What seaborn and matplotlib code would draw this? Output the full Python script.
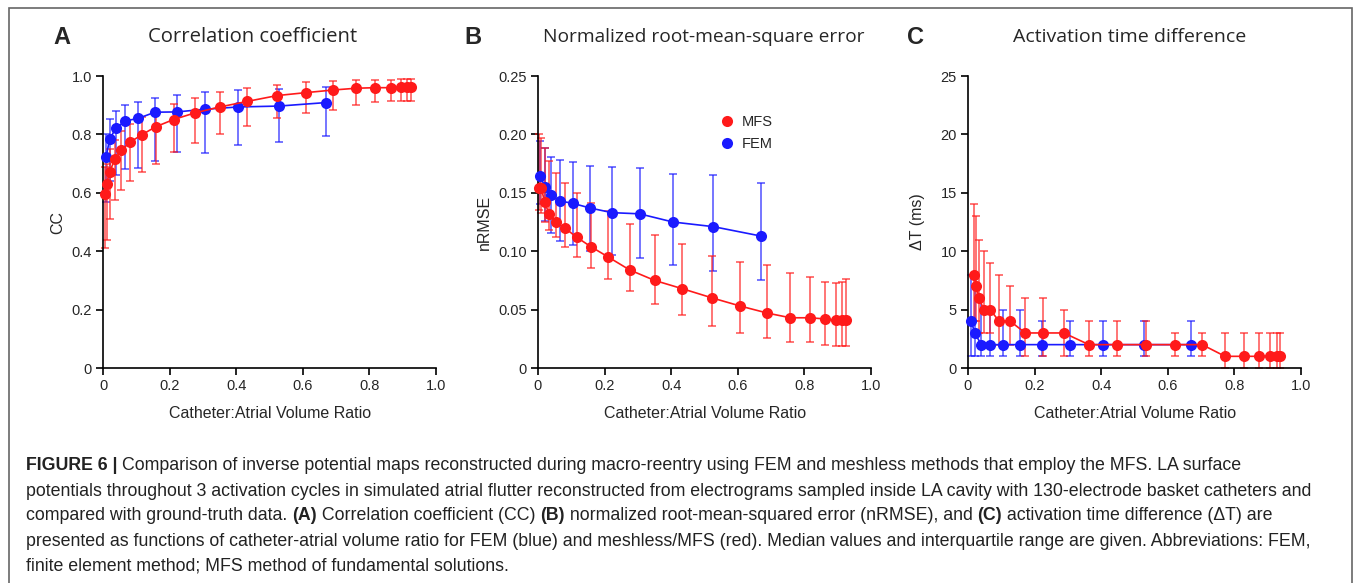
import numpy as np
import pandas as pd
import matplotlib
matplotlib.use('Agg')
import matplotlib.pyplot as plt
import seaborn as sns
from matplotlib.lines import Line2D
from matplotlib.patches import Rectangle

# Panel A - correlation coefficient
a_mfs_x = [0.005, 0.011, 0.020, 0.036, 0.055, 0.082, 0.117, 0.158, 0.212, 0.277, 0.351,
           0.433, 0.523, 0.609, 0.691, 0.759, 0.817, 0.864, 0.896, 0.913, 0.925]
a_mfs_y = [0.596, 0.630, 0.672, 0.716, 0.746, 0.774, 0.799, 0.826, 0.851, 0.874, 0.894,
           0.913, 0.933, 0.943, 0.952, 0.958, 0.960, 0.960, 0.962, 0.962, 0.962]
a_mfs_lo = [0.41, 0.44, 0.51, 0.575, 0.61, 0.64, 0.67, 0.70, 0.74, 0.77, 0.80,
            0.83, 0.855, 0.875, 0.885, 0.90, 0.91, 0.915, 0.915, 0.915, 0.915]
a_mfs_hi = [0.69, 0.70, 0.75, 0.78, 0.81, 0.835, 0.86, 0.877, 0.905, 0.925, 0.945,
            0.958, 0.97, 0.978, 0.982, 0.985, 0.985, 0.985, 0.99, 0.99, 0.99]
a_fem_x = [0.009, 0.020, 0.039, 0.067, 0.106, 0.156, 0.222, 0.305, 0.406, 0.528, 0.670]
a_fem_y = [0.721, 0.784, 0.822, 0.846, 0.855, 0.876, 0.877, 0.886, 0.894, 0.897, 0.909]
a_fem_lo = [0.57, 0.64, 0.66, 0.68, 0.685, 0.71, 0.74, 0.735, 0.765, 0.775, 0.795]
a_fem_hi = [0.80, 0.852, 0.88, 0.90, 0.91, 0.925, 0.935, 0.945, 0.953, 0.955, 0.963]

# Panel B - nRMSE
b_mfs_x = [0.003, 0.010, 0.020, 0.033, 0.053, 0.080, 0.116, 0.158, 0.211, 0.275, 0.350,
           0.432, 0.523, 0.608, 0.689, 0.758, 0.816, 0.863, 0.895, 0.912, 0.924]
b_mfs_y = [0.154, 0.154, 0.142, 0.132, 0.125, 0.120, 0.112, 0.104, 0.095, 0.084, 0.075,
           0.068, 0.060, 0.053, 0.047, 0.043, 0.043, 0.042, 0.041, 0.041, 0.041]
b_mfs_lo = [0.135, 0.133, 0.125, 0.118, 0.112, 0.104, 0.095, 0.086, 0.076, 0.066, 0.055,
            0.045, 0.036, 0.030, 0.026, 0.022, 0.022, 0.020, 0.019, 0.019, 0.019]
b_mfs_hi = [0.200, 0.197, 0.188, 0.177, 0.167, 0.158, 0.150, 0.141, 0.134, 0.123, 0.114,
            0.106, 0.096, 0.091, 0.088, 0.081, 0.078, 0.074, 0.073, 0.074, 0.076]
b_fem_x = [0.007, 0.021, 0.038, 0.066, 0.104, 0.156, 0.222, 0.305, 0.405, 0.527, 0.669]
b_fem_y = [0.164, 0.155, 0.148, 0.143, 0.141, 0.137, 0.133, 0.132, 0.125, 0.121, 0.113]
b_fem_lo = [0.140, 0.126, 0.116, 0.109, 0.105, 0.100, 0.097, 0.094, 0.088, 0.083, 0.075]
b_fem_hi = [0.194, 0.188, 0.181, 0.178, 0.176, 0.173, 0.172, 0.171, 0.166, 0.165, 0.158]

# Panel C - activation time difference (ms)
c_mfs_x = [0.017, 0.025, 0.033, 0.047, 0.067, 0.093, 0.127, 0.172, 0.225, 0.288, 0.363,
           0.447, 0.536, 0.622, 0.703, 0.772, 0.830, 0.875, 0.908, 0.927, 0.938]
c_mfs_y = [8, 7, 6, 5, 5, 4, 4, 3, 3, 3, 2, 2, 2, 2, 2, 1, 1, 1, 1, 1, 1]
c_mfs_lo = [4, 4, 3, 3, 3, 2, 2, 1, 1, 1, 1, 1, 1, 1, 1, 0, 0, 0, 0, 0, 0]
c_mfs_hi = [14, 13, 11, 10, 9, 8, 7, 6, 6, 5, 4, 4, 4, 3, 3, 3, 3, 3, 3, 3, 3]
c_fem_x = [0.010, 0.020, 0.040, 0.067, 0.105, 0.157, 0.222, 0.306, 0.406, 0.528, 0.670]
c_fem_y = [4, 3, 2, 2, 2, 2, 2, 2, 2, 2, 2]
c_fem_lo = [1, 1, 1, 1, 1, 1, 1, 1, 1, 1, 1]
c_fem_hi = [8, 7, 6, 5, 5, 5, 4, 4, 4, 4, 4]

panels = [
    dict(letter='A', title='Correlation coefficient', ylabel='CC',
         yticks=[0, 0.2, 0.4, 0.6, 0.8, 1.0], ylabels=['0', '0.2', '0.4', '0.6', '0.8', '1.0'],
         mfs=(a_mfs_x, a_mfs_y, a_mfs_lo, a_mfs_hi), fem=(a_fem_x, a_fem_y, a_fem_lo, a_fem_hi)),
    dict(letter='B', title='Normalized root-mean-square error', ylabel='nRMSE',
         yticks=[0, 0.05, 0.10, 0.15, 0.20, 0.25], ylabels=['0', '0.05', '0.10', '0.15', '0.20', '0.25'],
         mfs=(b_mfs_x, b_mfs_y, b_mfs_lo, b_mfs_hi), fem=(b_fem_x, b_fem_y, b_fem_lo, b_fem_hi)),
    dict(letter='C', title='Activation time difference', ylabel='\u0394T (ms)',
         yticks=[0, 5, 10, 15, 20, 25], ylabels=['0', '5', '10', '15', '20', '25'],
         mfs=(c_mfs_x, c_mfs_y, c_mfs_lo, c_mfs_hi), fem=(c_fem_x, c_fem_y, c_fem_lo, c_fem_hi)),
]

RED = '#ff1a1a'
BLUE = '#1a1aff'

sns.set_style('ticks')
plt.rcParams['font.family'] = ['Liberation Sans', 'DejaVu Sans']

fig = plt.figure(figsize=(13.55, 5.83), dpi=100)
W, H = 1355, 583

def px(x, y):
    return x / W, 1 - y / H

lefts = [103, 538, 968]
letter_x = [62, 473, 916]
title_x = [148, 543, 1013]
title_size = [14.6, 13.8, 14.0]
ylab_x = [58, 484, 917]

for i, p in enumerate(panels):
    l = lefts[i]
    ax = fig.add_axes([l / W, 1 - 368 / H, 333 / W, 292 / H])
    for key, col in [('fem', BLUE), ('mfs', RED)]:
        x, y, lo, hi = p[key]
        df = pd.DataFrame({'ratio': x, 'value': y})
        yerr = [np.array(y) - np.array(lo), np.array(hi) - np.array(y)]
        ax.errorbar(x, y, yerr=yerr, fmt='none', ecolor=col, alpha=0.7,
                    elinewidth=1.2, capsize=3, capthick=1.2, zorder=2)
        sns.lineplot(data=df, x='ratio', y='value', ax=ax, color=col, sort=False,
                     marker='o', markersize=8, markeredgewidth=0, linewidth=1.2,
                     zorder=3, legend=False)
    ax.set_xlim(0, 1.0)
    ax.set_ylim(p['yticks'][0], p['yticks'][-1])
    ax.set_xticks([0, 0.2, 0.4, 0.6, 0.8, 1.0], ['0', '0.2', '0.4', '0.6', '0.8', '1.0'])
    ax.set_yticks(p['yticks'], p['ylabels'])
    ax.tick_params(labelsize=10.5, length=5, width=1.2, color='black', pad=3)
    for s in ['left', 'bottom']:
        ax.spines[s].set_linewidth(1.2)
        ax.spines[s].set_color('black')
    sns.despine(ax=ax)
    ax.set_xlabel('')
    ax.set_ylabel('')
    ax.patch.set_alpha(0)
    for c in ax.collections:
        c.set_clip_on(False)
    for ln in ax.lines:
        ln.set_clip_on(False)

    fig.text(*px(l + 167, 413), 'Catheter:Atrial Volume Ratio', ha='center', va='center', fontsize=11.5)
    fig.text(*px(ylab_x[i], 222), p['ylabel'], ha='center', va='center', rotation=90, fontsize=11.5)
    fig.text(*px(letter_x[i], 37), p['letter'], ha='center', va='center', fontsize=17, fontweight='bold')
    fig.text(*px(title_x[i], 37), p['title'], ha='left', va='center', fontsize=title_size[i],
             family=['Open Sans', 'DejaVu Sans'])

    if p['letter'] == 'B':
        handles = [Line2D([], [], color=RED, marker='o', ls='none', markersize=8, markeredgewidth=0),
                   Line2D([], [], color=BLUE, marker='o', ls='none', markersize=8, markeredgewidth=0)]
        ax.legend(handles, ['MFS', 'FEM'], loc='upper left', bbox_to_anchor=(0.51, 0.91),
                  frameon=False, fontsize=10.5, handlelength=0.8, handletextpad=0.6, labelspacing=0.55)

# frame around the figure
fig.patches.append(Rectangle(px(9, 600), (1352 - 9) / W, (600 - 8) / H, transform=fig.transFigure,
                             fill=False, edgecolor='#666666', linewidth=1.2))

# caption with bold pieces
caption = [
    [('FIGURE 6 | ', True), ('Comparison of inverse potential maps reconstructed during macro-reentry using FEM and meshless methods that employ the MFS. LA surface', False)],
    [('potentials throughout 3 activation cycles in simulated atrial flutter reconstructed from electrograms sampled inside LA cavity with 130-electrode basket catheters and', False)],
    [('compared with ground-truth data. ', False), ('(A)', True), (' Correlation coefficient (CC) ', False), ('(B)', True),
     (' normalized root-mean-squared error (nRMSE), and ', False), ('(C)', True), (' activation time difference (\u0394T) are', False)],
    [('presented as functions of catheter-atrial volume ratio for FEM (blue) and meshless/MFS (red). Median values and interquartile range are given. Abbreviations: FEM,', False)],
    [('finite element method; MFS method of fundamental solutions.', False)],
]
line_y = [465, 491, 516, 541, 566]

fig.canvas.draw()
renderer = fig.canvas.get_renderer()
for row, yy in zip(caption, line_y):
    x = 26
    for txt, bold in row:
        t = fig.text(*px(x, yy), txt, ha='left', va='center', fontsize=12.8,
                     fontweight='bold' if bold else 'normal', color='#222222')
        bb = t.get_window_extent(renderer=renderer)
        x += bb.width

fig.savefig('out.png', dpi=100)
